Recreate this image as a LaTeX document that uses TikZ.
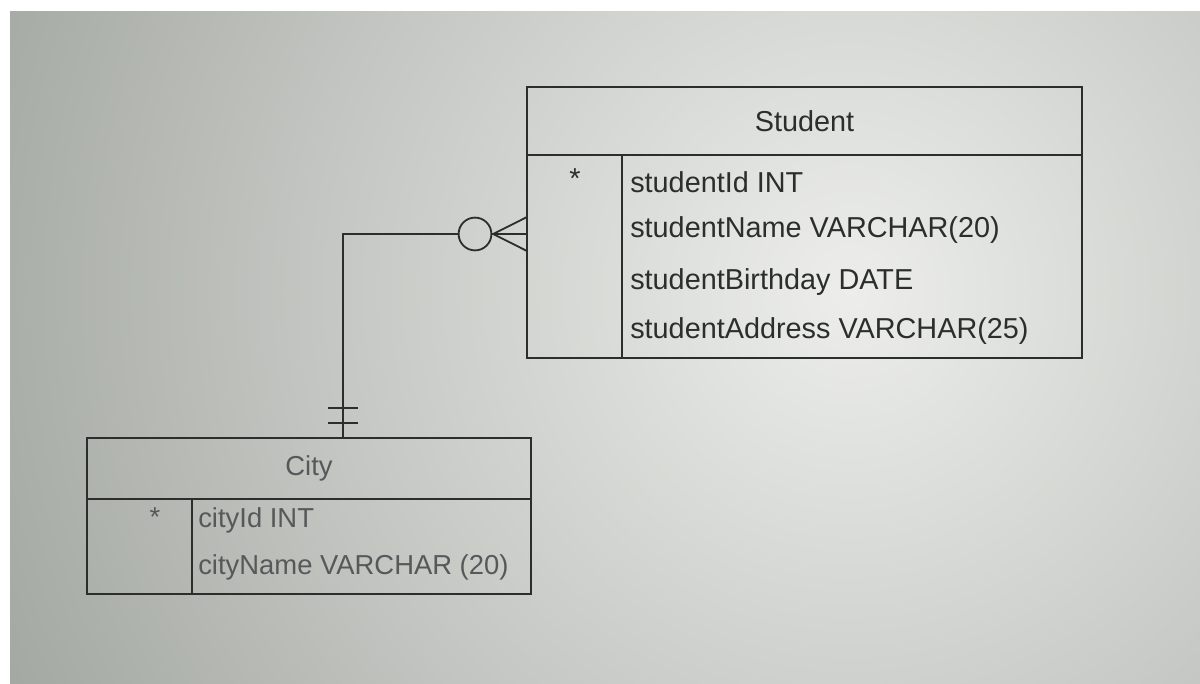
\documentclass[tikz,border=0pt]{standalone}
\usepackage{fontspec}
\setmainfont{Liberation Sans}
\usetikzlibrary{positioning}

\definecolor{screen}{HTML}{EDEEEB}
\definecolor{screenedge}{HTML}{6F766E}
\definecolor{ink}{HTML}{2B2E2B}
\definecolor{fadedink}{HTML}{55595A}

\tikzset{
  tablebox/.style={draw=ink, line width=1.3pt, rectangle, inner sep=0pt, outer sep=0pt, anchor=north west},
  fieldtext/.style={anchor=west, inner sep=0pt, text=ink, font=\fontsize{20.5}{24}\selectfont},
  citytext/.style={anchor=west, inner sep=0pt, text=fadedink, font=\fontsize{19.5}{23}\selectfont},
  relline/.style={draw=ink, line width=1.3pt}
}

\begin{document}
\begin{tikzpicture}
            \useasboundingbox (0,0) rectangle (30,17.075);
            % Screen background
            \fill[white] (0,0) rectangle (30,17.075);
            \begin{scope}
              \clip (0.25,0) rectangle (30,16.775);
              \shade[inner color=screen, outer color=screenedge] (21.25,9.8) circle (40cm);
            \end{scope}
            % Student table
            \node[tablebox, minimum width=13.875cm, minimum height=1.7cm, text=ink, font=\fontsize{20.5}{24}\selectfont] (stuHead) at (13.175,14.9) {Student};
            \node[tablebox, minimum width=2.375cm, minimum height=5.075cm] (stuKey) at (stuHead.south west) {};
            \node[tablebox, minimum width=11.5cm, minimum height=5.075cm] (stuBody) at (stuKey.north east) {};
            \node[text=ink, font=\fontsize{20.5}{24}\selectfont] (stuStar) at (14.375,12.6) {*};
            \node[fieldtext] (stuId) at (15.75,12.525) {studentId INT};
            \node[fieldtext] (stuName) at (15.75,11.325) {studentName VARCHAR(20)};
            \node[fieldtext] (stuBirth) at (15.75,10.025) {studentBirthday DATE};
            \node[fieldtext] (stuAddr) at (15.75,8.8) {studentAddress VARCHAR(25)};
            % City table
            \node[tablebox, minimum width=11.1cm, minimum height=1.525cm, text=fadedink, font=\fontsize{19.5}{23}\selectfont] (cityHead) at (2.175,6.125) {City};
            \node[tablebox, minimum width=2.625cm, minimum height=2.375cm] (cityKey) at (cityHead.south west) {};
            \node[tablebox, minimum width=8.475cm, minimum height=2.375cm] (cityBody) at (cityKey.north east) {};
            \node[text=fadedink, font=\fontsize{19.5}{23}\selectfont] (cityStar) at (3.875,4.15) {*};
            \node[citytext] (cityId) at (4.95,4.075) {cityId INT};
            \node[citytext] (cityName) at (4.95,2.9) {cityName VARCHAR (20)};
            % Relationship: zero or many students, exactly one city
            \node[draw=ink, line width=1.3pt, circle, minimum size=0.82cm, inner sep=0pt] (optCircle) at (11.875,11.225) {};
            \coordinate (footTip) at (12.33,11.225);
            \coordinate (footTop) at (13.175,11.65);
            \coordinate (footMid) at (13.175,11.225);
            \coordinate (footLow) at (13.175,10.8);
            \coordinate (elbow) at (8.575,11.225);
            \draw[relline] (optCircle.east) -- (footMid);
            \draw[relline] (footTip) -- (footTop);
            \draw[relline] (footTip) -- (footLow);
            \draw[relline] (optCircle.west) -- (elbow) -- (elbow |- cityHead.north);
            \draw[relline] (8.2,6.875) -- (8.95,6.875); % one
            \draw[relline] (8.2,6.5) -- (8.95,6.5); % and only one
        \end{tikzpicture}
\end{document}
